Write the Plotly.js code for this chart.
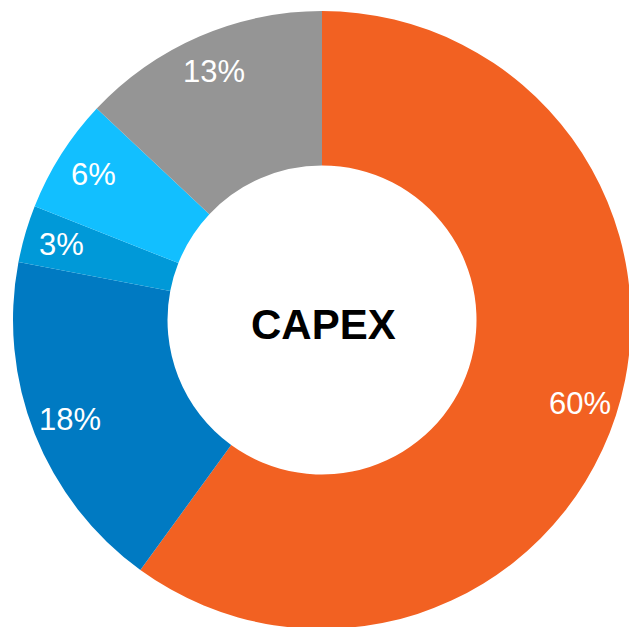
<!DOCTYPE html>
<html>
<head>
<meta charset="utf-8">
<script src="https://cdn.plot.ly/plotly-3.0.1.min.js"></script>
<style>
html, body { margin: 0; padding: 0; overflow: hidden; background: #fff; }
#chart { width: 640px; height: 640px; }
</style>
</head>
<body>
<div id="chart"></div>
<script>
const categories = ["A", "B", "C", "D", "E"];
const values = [60, 18, 3, 6, 13];
const textLabels = ["60%", "18%", "3%", "6%", "13%"];
const colors = ["#F26122", "#007AC2", "#0099D8", "#12BFFF", "#959595"];
const centerTitle = "CAPEX";

const W = 640, H = 640, M = 11;
const labelRadiusFrac = 0.877; // of outer radius

const total = values.reduce((a, b) => a + b, 0);
let cum = 0;
const annotations = values.map((v, i) => {
  const mid = (cum + v / 2) / total * 2 * Math.PI;
  cum += v;
  const r = 0.5 * labelRadiusFrac;
  return {
    xref: "paper", yref: "paper",
    x: 0.5 + r * Math.sin(mid),
    y: 0.5 + r * Math.cos(mid),
    text: textLabels[i], showarrow: false,
    font: { family: "Liberation Sans, Arial, sans-serif", size: 31, color: "#ffffff" },
    xanchor: "center", yanchor: "middle"
  };
});
annotations.push({
  xref: "paper", yref: "paper", x: 0.502, y: 0.492,
  text: "<b>" + centerTitle + "</b>", showarrow: false,
  font: { family: "Liberation Sans, Arial, sans-serif", size: 42, color: "#000000" },
  xanchor: "center", yanchor: "middle"
});

Plotly.newPlot("chart", [{
  type: "pie",
  labels: categories,
  values: values,
  hole: 0.5,
  sort: false,
  direction: "clockwise",
  rotation: 0,
  marker: { colors: colors, line: { width: 0 } },
  textinfo: "none",
  hoverinfo: "none"
}], {
  width: W, height: H,
  margin: { l: M + 2, r: M - 2, t: M, b: M, pad: 0 },
  showlegend: false,
  paper_bgcolor: "#ffffff",
  annotations: annotations
}, { staticPlot: true, displayModeBar: false });
</script>
</body>
</html>
